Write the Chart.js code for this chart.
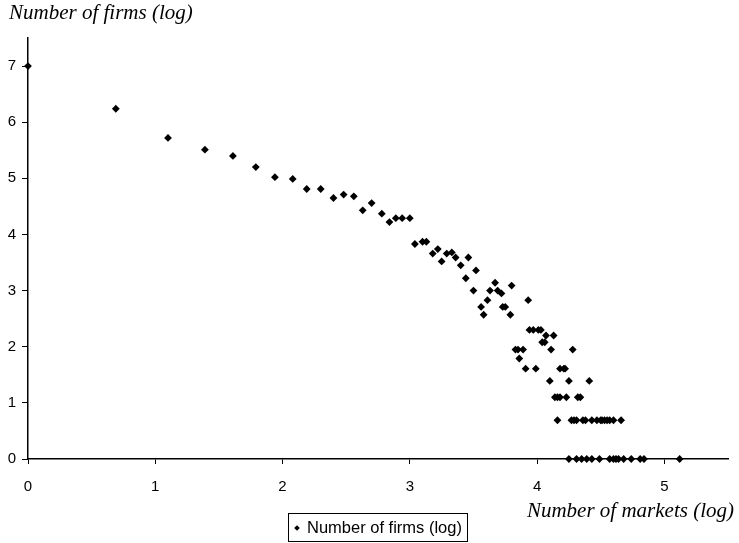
<!DOCTYPE html>
<html>
<head>
<meta charset="utf-8">
<script src="https://cdn.jsdelivr.net/npm/chart.js@4"></script>
<style>
    body { margin: 0; background: #fff; }
    #wrap { position: relative; width: 739px; height: 543px; }
</style>
</head>
<body>
<div id="wrap"><canvas id="chart"></canvas></div>
<script>
// log of number of markets (x) and log of number of firms (y)
const marketsLog = [
    0, 0.69, 1.10, 1.39, 1.61, 1.79, 1.94, 2.08, 2.19, 2.30,
    2.40, 2.48, 2.56, 2.63, 2.70, 2.78, 2.84, 2.89, 2.94, 3.00,
    3.04, 3.10, 3.13, 3.18, 3.22, 3.25, 3.29, 3.33, 3.36, 3.40,
    3.44, 3.46, 3.50, 3.52, 3.56, 3.58, 3.61, 3.63, 3.67, 3.69,
    3.72, 3.73, 3.75, 3.79, 3.80, 3.93, 3.94, 3.97, 4.01, 4.03,
    4.07, 4.13, 4.04, 4.06, 4.11, 4.28, 3.83, 3.85, 3.89, 3.86,
    3.91, 3.99, 4.18, 4.21, 4.22, 4.10, 4.25, 4.41,
    4.14, 4.16, 4.18, 4.23, 4.32, 4.34,
    4.16, 4.27, 4.29, 4.31, 4.36, 4.38, 4.43, 4.47, 4.50, 4.51, 4.53, 4.55, 4.57, 4.60, 4.66,
    4.25, 4.31, 4.35, 4.39, 4.43, 4.49, 4.57, 4.60, 4.62, 4.64, 4.68, 4.74, 4.81, 4.84, 5.12
];
const firmsLog = [
    7.00, 6.24, 5.72, 5.51, 5.40, 5.20, 5.02, 4.99, 4.81, 4.81,
    4.65, 4.71, 4.68, 4.43, 4.56, 4.37, 4.22, 4.29, 4.29, 4.29,
    3.83, 3.87, 3.87, 3.66, 3.74, 3.52, 3.66, 3.68, 3.59, 3.45,
    3.22, 3.59, 3.00, 3.36, 2.71, 2.57, 2.83, 3.00, 3.14, 3.00,
    2.95, 2.71, 2.71, 2.57, 3.09, 2.83, 2.30, 2.30, 2.30, 2.30,
    2.20, 2.20, 2.08, 2.08, 1.95, 1.95, 1.95, 1.95, 1.95, 1.79,
    1.61, 1.61, 1.61, 1.61, 1.61, 1.39, 1.39, 1.39,
    1.10, 1.10, 1.10, 1.10, 1.10, 1.10,
    0.69, 0.69, 0.69, 0.69, 0.69, 0.69, 0.69, 0.69, 0.69, 0.69, 0.69, 0.69, 0.69, 0.69, 0.69,
    0, 0, 0, 0, 0, 0, 0, 0, 0, 0, 0, 0, 0, 0, 0
];
const xTicks = [0, 1, 2, 3, 4, 5];
const yTicks = [0, 1, 2, 3, 4, 5, 6, 7];
const seriesLabel = 'Number of firms (log)';
const yTitle = 'Number of firms (log)';
const xTitle = 'Number of markets (log)';

const points = marketsLog.map((x, i) => ({ x: x, y: firmsLog[i] }));

// titles and boxed legend drawn on top of the canvas
const annotations = {
    id: 'annotations',
    afterDraw(chart) {
        const ctx = chart.ctx;
        ctx.save();
        ctx.fillStyle = '#000';
        ctx.textBaseline = 'alphabetic';
        ctx.font = 'italic 21px "Liberation Serif", "Times New Roman", serif';
        ctx.textAlign = 'left';
        ctx.fillText(yTitle, 9, 19);
        ctx.textAlign = 'right';
        ctx.fillText(xTitle, 734, 517);

        // legend
        ctx.strokeStyle = '#000';
        ctx.lineWidth = 1;
        ctx.strokeRect(288.5, 513.5, 179, 28);
        const cx = 297, cy = 528, r = 2.8;
        ctx.beginPath();
        ctx.moveTo(cx, cy - r);
        ctx.lineTo(cx + r, cy);
        ctx.lineTo(cx, cy + r);
        ctx.lineTo(cx - r, cy);
        ctx.closePath();
        ctx.fill();
        ctx.font = '16.5px "Liberation Sans", Arial, sans-serif';
        ctx.textAlign = 'left';
        ctx.fillText(chart.data.datasets[0].label, 307, 533);
        ctx.restore();
    }
};

new Chart(document.getElementById('chart'), {
    type: 'scatter',
    data: {
        datasets: [{
            label: seriesLabel,
            data: points,
            pointStyle: 'rectRot',
            pointRadius: 3.9,
            pointBorderWidth: 0,
            backgroundColor: '#000',
            borderColor: '#000',
            clip: false
        }]
    },
    options: {
        responsive: true,
        maintainAspectRatio: false,
        animation: false,
        layout: { padding: { left: 0, right: 11, top: 38, bottom: 39 } },
        plugins: {
            legend: { display: false },
            tooltip: { enabled: false }
        },
        scales: {
            x: {
                type: 'linear',
                min: 0,
                max: 5.5,
                afterBuildTicks: scale => { scale.ticks = xTicks.map(v => ({ value: v })); },
                afterFit: scale => { scale.height = 45; },
                grid: { drawOnChartArea: false, drawTicks: true, tickLength: 5, color: '#000', lineWidth: 1 },
                border: { display: true, color: '#000', width: 1.5 },
                ticks: {
                    color: '#000',
                    padding: 14,
                    font: { family: '"Liberation Sans", Arial, sans-serif', size: 15 }
                }
            },
            y: {
                type: 'linear',
                min: 0,
                max: 7.5,
                afterBuildTicks: scale => { scale.ticks = yTicks.map(v => ({ value: v })); },
                afterFit: scale => { scale.width = 28; },
                grid: { drawOnChartArea: false, drawTicks: true, tickLength: 6, color: '#000', lineWidth: 1 },
                border: { display: true, color: '#000', width: 1.5 },
                ticks: {
                    color: '#000',
                    padding: 6,
                    font: { family: '"Liberation Sans", Arial, sans-serif', size: 15 }
                }
            }
        }
    },
    plugins: [annotations]
});
</script>
</body>
</html>
